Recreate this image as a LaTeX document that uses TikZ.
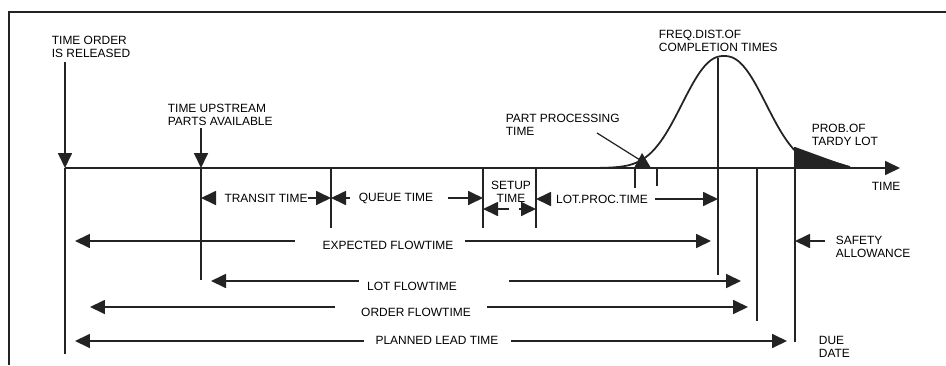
\documentclass[tikz,border=0pt]{standalone}
\usepackage{fontspec}
\setmainfont{Liberation Sans}
\usetikzlibrary{arrows.meta}
\begin{document}
\begin{tikzpicture}[x=0.02cm,y=-0.02cm,line width=1pt,
  tip/.style={-{Triangle[length=0.3cm,width=0.28cm]}},
  lbl/.style={font=\fontsize{6.8}{7.5}\selectfont,inner sep=0pt,align=left,anchor=north west},
  dimtext/.style={font=\fontsize{6.8}{7.5}\selectfont,inner sep=1pt}]
% Define colors
\definecolor{ink}{RGB}{35,35,35}
\useasboundingbox (0,0) rectangle (946,365);

% Frame (cropped)
\draw[ink,line width=0.8pt] (9,365) -- (9,12) -- (946,12);

% Time axis
\coordinate (rel) at (65,168);
\coordinate (tup) at (201,168);
\coordinate (que) at (331,168);
\coordinate (set) at (483,168);
\coordinate (lot) at (536,168);
\coordinate (exp) at (718,168);
\coordinate (ord) at (757,168);
\coordinate (due) at (795,168);
\coordinate (tend) at (900,168);
\draw[ink,tip] (rel) -- (tend);
\node[lbl] (timelbl) at (871,181) {TIME};

% Release and upstream events
\node[lbl] (release) at (51,35) {TIME ORDER\\IS RELEASED};
\node[lbl] (upstream) at (167,103) {TIME UPSTREAM\\PARTS AVAILABLE};
\coordinate (reltop) at (65,62);
\coordinate (tuptop) at (201,128);
\draw[ink,tip] (reltop) -- (rel);
\draw[ink,tip] (tuptop) -- (tup);

% Vertical marker lines
\draw[ink] (rel) -- (65,354);
\draw[ink] (tup) -- (201,280);
\foreach \x/\y in {331/228, 483/228, 536/228, 757/321}
  \draw[ink] (\x,168) -- (\x,\y);
\draw[ink] (718,58) -- (718,275);
\draw[ink] (795,147) -- (795,342);
\draw[ink] (635,168) -- (635,188);
\draw[ink] (657,168) -- (657,186);

% Frequency distribution of completion times
\draw[ink] plot[domain=592:795,samples=80,smooth] (\x,{168-112*exp(-0.5*(abs((\x-724)/40))^2.3)}) -- (850,167);
\fill[ink] (795,147) -- (850,167) -- (850,168) -- (795,168) -- cycle;
\fill[ink] (634,168) -- (642,153) -- (651,168) -- cycle;
\node[lbl] (freq) at (658,29) {FREQ.DIST.OF\\COMPLETION TIMES};
\node[lbl] (tardy) at (811,123) {PROB.OF\\TARDY LOT};
\node[lbl] (ppt) at (505,113) {PART PROCESSING\\TIME};
\coordinate (pptend) at (640,160);
\draw[ink,line width=0.7pt] (597,133) -- (pptend);

% Element times
\node[dimtext] (transit) at (266,198) {TRANSIT TIME};
\draw[ink,tip,shorten <=0.2cm] (transit.west) -- (transit.west -| tup);
\draw[ink,tip,shorten <=-0.05cm] (transit.east) -- (transit.east -| que);
\node[dimtext] (queue) at (396,198) {QUEUE TIME};
\draw[ink,tip,shorten <=0.12cm] (queue.west) -- (queue.west -| que);
\draw[ink,tip,shorten <=0.24cm] (queue.east) -- (queue.east -| set);
\node[dimtext,align=center] (setup) at (511,192) {SETUP\\TIME};
\coordinate (su) at (509,209);
\draw[ink,tip] (su) -- (su -| set);
\draw[ink,tip,shorten <=0.2cm] (su) -- (su -| lot);
\node[dimtext] (lotproc) at (602,199) {LOT.PROC.TIME};
\draw[ink,tip,shorten <=0.1cm] (lotproc.west) -- (lotproc.west -| lot);
\draw[ink,tip,shorten <=0.1cm] (lotproc.east) -- (lotproc.east -| exp);

% Flowtimes and lead time
\coordinate (efl) at (75,241);   \coordinate (efr) at (711,241);
\node[dimtext] (expflow) at (388,245) {EXPECTED FLOWTIME};
\draw[ink,tip,shorten <=0.5cm] (expflow.west |- efl) -- (efl);
\draw[ink,tip,shorten <=0.18cm] (expflow.east |- efr) -- (efr);

\coordinate (lfl) at (211,281);  \coordinate (lfr) at (741,281);
\node[dimtext] (lotflow) at (412,286) {LOT FLOWTIME};
\draw[ink,tip,shorten <=0.12cm] (lotflow.west |- lfl) -- (lfl);
\draw[ink,tip,shorten <=1.0cm] (lotflow.east |- lfr) -- (lfr);

\coordinate (ofl) at (90,307);   \coordinate (ofr) at (748,307);
\node[dimtext] (ordflow) at (416,312) {ORDER FLOWTIME};
\draw[ink,tip,shorten <=0.48cm] (ordflow.west |- ofl) -- (ofl);
\draw[ink,tip,shorten <=0.28cm] (ordflow.east |- ofr) -- (ofr);

\coordinate (pll) at (75,341);   \coordinate (plr) at (787,341);
\node[dimtext] (lead) at (437,340) {PLANNED LEAD TIME};
\draw[ink,tip,shorten <=0.18cm] (lead.west |- pll) -- (pll);
\draw[ink,tip,shorten <=0.2cm] (lead.east |- plr) -- (plr);

% Safety allowance and due date
\coordinate (safe) at (825,241);
\draw[ink,tip] (safe) -- (safe -| due);
\node[lbl] (safety) at (835,235) {SAFETY\\ALLOWANCE};
\node[lbl] (duedate) at (818,335) {DUE\\DATE};

\end{tikzpicture}
\end{document}
